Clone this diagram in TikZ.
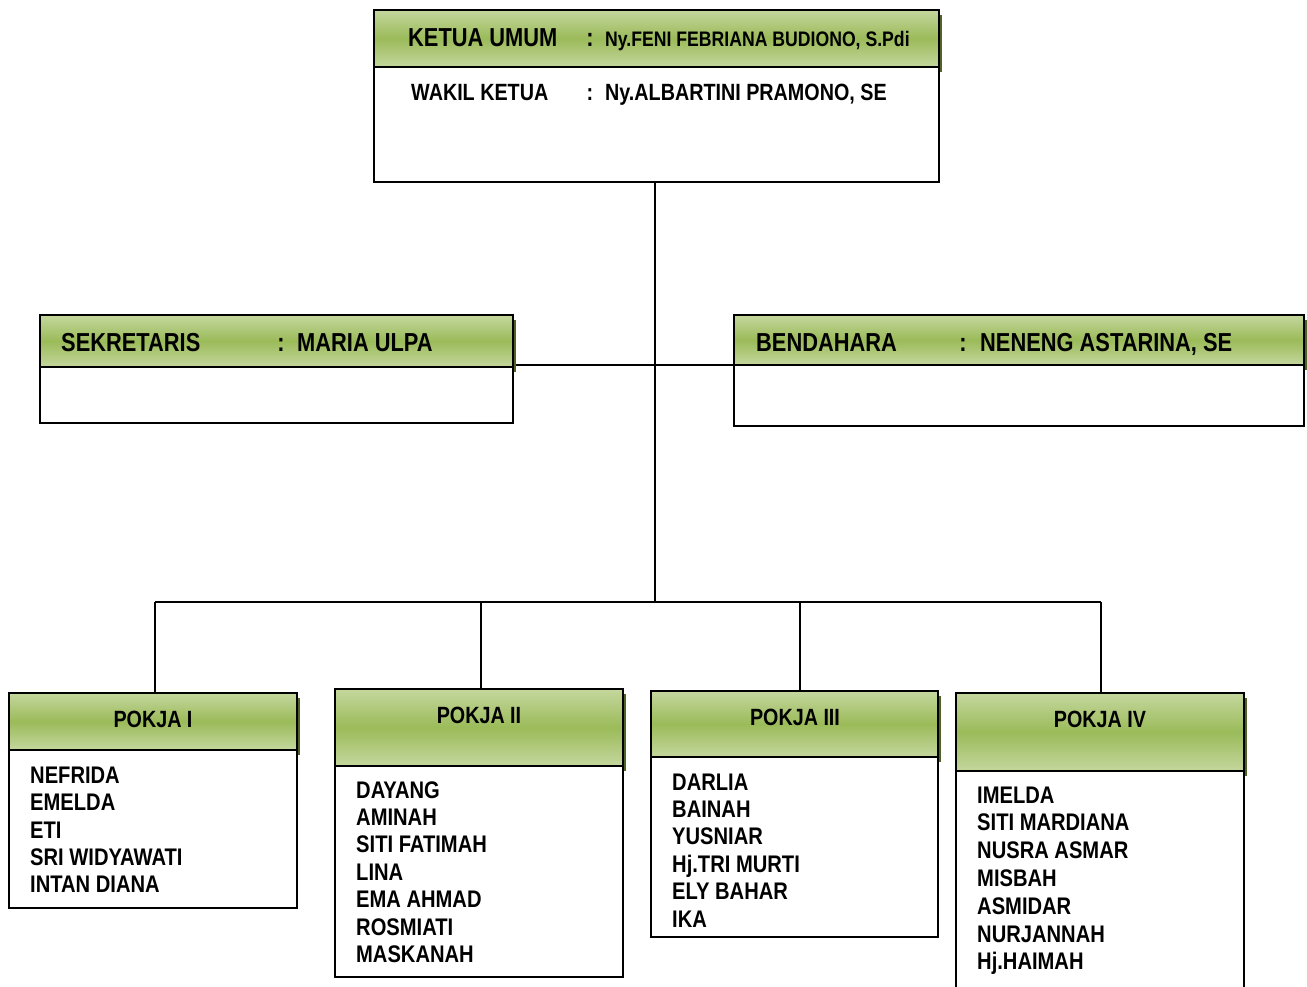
\documentclass[tikz,border=0pt]{standalone}
\usepackage{fontspec}
\setmainfont{Liberation Sans}[FakeStretch=0.84]
\begin{document}
\begin{tikzpicture}[x=1pt,y=-1pt,
  hdr/.style={draw=black,line width=1.8pt,anchor=north west,inner sep=0pt,outer sep=0pt,
    top color=hdrlight,bottom color=hdrlight,middle color=hdrmid},
  shd/.style={fill=hdrshadow,draw=none,anchor=north west,inner sep=0pt,outer sep=0pt},
  body/.style={draw=black,line width=1.4pt,fill=white,anchor=north west,inner sep=0pt,outer sep=0pt},
  conn/.style={draw=black,line width=1.5pt},
  big/.style={font=\bfseries\fontsize{26}{30}\selectfont,inner sep=0pt,anchor=base west},
  mid/.style={font=\bfseries\fontsize{23.5}{28}\selectfont,inner sep=0pt,anchor=base west},
  sm/.style={font=\bfseries\fontsize{21}{25}\selectfont,inner sep=0pt,anchor=base west},
  nm/.style={font=\bfseries\fontsize{24}{28}\selectfont,inner sep=0pt,anchor=base west},
  ttl/.style={font=\bfseries\fontsize{23.5}{28}\selectfont,inner sep=0pt,anchor=base},
]
\definecolor{hdrlight}{HTML}{C4D79E}
\definecolor{hdrmid}{HTML}{9BBB59}
\definecolor{hdrshadow}{HTML}{4F6228}
\useasboundingbox (0,0) rectangle (1307,986);
\fill[white] (0,0) rectangle (1307,986);

% ---------- connectors (drawn first, under boxes) ----------
\coordinate (topc) at (655,182);
\coordinate (midc) at (655,365);
\coordinate (busc) at (655,602);
\coordinate (bus1) at (155,602);
\coordinate (bus2) at (481,602);
\coordinate (bus3) at (800,602);
\coordinate (bus4) at (1101,602);
\coordinate (sekr) at (513,365);
\coordinate (bendl) at (734,365);
\draw[conn] (topc) -- (busc);
\draw[conn] (sekr) -- (bendl);
\draw[conn] (bus1) -- (bus4);
\draw[conn] (bus1) -- (155,693);
\draw[conn] (bus2) -- (481,689);
\draw[conn] (bus3) -- (800,691);
\draw[conn] (bus4) -- (1101,693);

% ---------- top box ----------
\node[shd,minimum width=565pt,minimum height=57pt] (ketuashd) at (377,15) {};
\node[body,minimum width=565pt,minimum height=172pt] (ketuabody) at (374,10) {};
\node[hdr,minimum width=565pt,minimum height=57pt] (ketuahdr) at (374,10) {};
\node[big] (ketual) at (408,46) {KETUA UMUM};
\node[big,anchor=base] (ketuac) at (590,46) {:};
\node[sm] (ketuan) at (605,46.5) {Ny.FENI FEBRIANA BUDIONO, S.Pdi};
\node[mid] (wakill) at (411,100) {WAKIL KETUA};
\node[mid,anchor=base] (wakilc) at (590,100) {:};
\node[mid] (wakiln) at (605,100) {Ny.ALBARTINI PRAMONO, SE};

% ---------- sekretaris ----------
\node[shd,minimum width=473pt,minimum height=52pt] (sekshd) at (43,320) {};
\node[body,minimum width=473pt,minimum height=108pt] (sekbody) at (40,315) {};
\node[hdr,minimum width=473pt,minimum height=52pt] (sekhdr) at (40,315) {};
\node[big] (sekl) at (61,351) {SEKRETARIS};
\node[big,anchor=base] (sekc) at (281,351) {:};
\node[big] (sekn) at (297,351) {MARIA ULPA};

% ---------- bendahara ----------
\node[shd,minimum width=570pt,minimum height=50pt] (benshd) at (737,320) {};
\node[body,minimum width=570pt,minimum height=111pt] (benbody) at (734,315) {};
\node[hdr,minimum width=570pt,minimum height=50pt] (benhdr) at (734,315) {};
\node[big] (benl) at (756,351) {BENDAHARA};
\node[big,anchor=base] (benc) at (963,351) {:};
\node[big] (benn) at (980,351) {NENENG ASTARINA, SE};

% ---------- pokja I ----------
\node[shd,minimum width=288pt,minimum height=57pt] (p1shd) at (12,698) {};
\node[body,minimum width=288pt,minimum height=215pt] (p1body) at (9,693) {};
\node[hdr,minimum width=288pt,minimum height=57pt] (p1hdr) at (9,693) {};
\node[ttl] (p1t) at (153,727) {POKJA I};
\foreach \n [count=\i from 0] in {NEFRIDA,EMELDA,ETI,SRI WIDYAWATI,INTAN DIANA}
  \node[nm] (p1n\i) at (30,783.5+27.3*\i) {\n};

% ---------- pokja II ----------
\node[shd,minimum width=288pt,minimum height=77pt] (p2shd) at (338,694) {};
\node[body,minimum width=288pt,minimum height=288pt] (p2body) at (335,689) {};
\node[hdr,minimum width=288pt,minimum height=77pt] (p2hdr) at (335,689) {};
\node[ttl] (p2t) at (479,723) {POKJA II};
\foreach \n [count=\i from 0] in {DAYANG,AMINAH,SITI FATIMAH,LINA,EMA AHMAD,ROSMIATI,MASKANAH}
  \node[nm] (p2n\i) at (356,798+27.4*\i) {\n};

% ---------- pokja III ----------
\node[shd,minimum width=287pt,minimum height=66pt] (p3shd) at (654,696) {};
\node[body,minimum width=287pt,minimum height=246pt] (p3body) at (651,691) {};
\node[hdr,minimum width=287pt,minimum height=66pt] (p3hdr) at (651,691) {};
\node[ttl] (p3t) at (795,725) {POKJA III};
\foreach \n [count=\i from 0] in {DARLIA,BAINAH,YUSNIAR,Hj.TRI MURTI,ELY BAHAR,IKA}
  \node[nm] (p3n\i) at (672,790+27.4*\i) {\n};

% ---------- pokja IV ----------
\node[shd,minimum width=288pt,minimum height=78pt] (p4shd) at (959,698) {};
\node[body,minimum width=288pt,minimum height=305pt] (p4body) at (956,693) {};
\node[hdr,minimum width=288pt,minimum height=78pt] (p4hdr) at (956,693) {};
\node[ttl] (p4t) at (1100,727) {POKJA IV};
\foreach \n [count=\i from 0] in {IMELDA,SITI MARDIANA,NUSRA ASMAR,MISBAH,ASMIDAR,NURJANNAH,Hj.HAIMAH}
  \node[nm] (p4n\i) at (977,803+27.8*\i) {\n};
\end{tikzpicture}
\end{document}
